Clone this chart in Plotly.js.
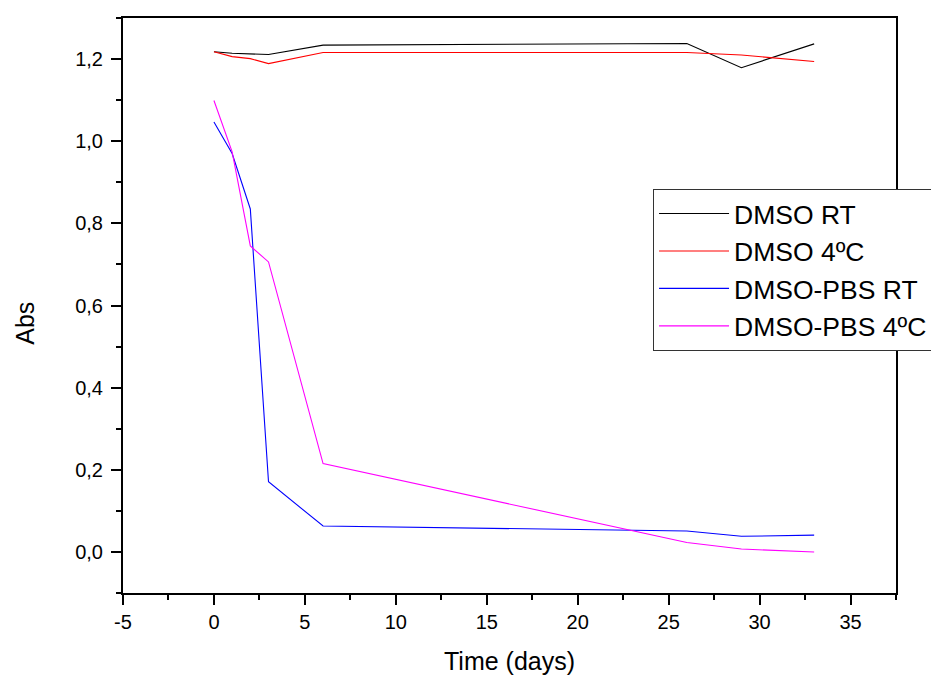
<!DOCTYPE html>
<html>
<head>
<meta charset="utf-8">
<script src="https://cdn.plot.ly/plotly-3.0.1.min.js"></script>
<style>html,body{margin:0;padding:0;background:#fff;}#chart{width:931px;height:677px;}</style>
</head>
<body>
<div id="chart"></div>
<script>
const seriesNames = ["DMSO RT", "DMSO 4ºC", "DMSO-PBS RT", "DMSO-PBS 4ºC"];
const dmsoRtDays = [0, 1, 3, 6, 26, 29, 33];
const dmsoRtAbs = [1.218, 1.214, 1.211, 1.234, 1.238, 1.179, 1.237];
const dmso4Days = [0, 1, 2, 3, 6, 26, 29, 33];
const dmso4Abs = [1.218, 1.206, 1.201, 1.189, 1.216, 1.216, 1.210, 1.194];
const pbsRtDays = [0, 1, 2, 3, 6, 26, 29, 33];
const pbsRtAbs = [1.047, 0.970, 0.835, 0.171, 0.063, 0.051, 0.038, 0.041];
const pbs4Days = [0, 1, 2, 3, 6, 26, 29, 33];
const pbs4Abs = [1.099, 0.974, 0.745, 0.706, 0.215, 0.023, 0.007, 0.000];
const xTickVals = [-5, 0, 5, 10, 15, 20, 25, 30, 35];
const xTickLabels = ["-5", "0", "5", "10", "15", "20", "25", "30", "35"];
const colors = ["#000000", "#ff0000", "#0000ff", "#ff00ff"];

const xs = [dmsoRtDays, dmso4Days, pbsRtDays, pbs4Days];
const ys = [dmsoRtAbs, dmso4Abs, pbsRtAbs, pbs4Abs];
const traces = seriesNames.map((n, i) => ({
  x: xs[i], y: ys[i], name: n, type: 'scatter', mode: 'lines',
  line: {color: colors[i], width: 1.1}
}));

const FONT = 'Arial, "Liberation Sans", sans-serif';
const layout = {
  width: 931, height: 677,
  margin: {l: 123, r: 35, t: 18, b: 84, autoexpand: false},
  paper_bgcolor: '#fff', plot_bgcolor: '#fff',
  separators: ',.',
  font: {family: FONT, color: '#000', size: 20},
  showlegend: true,
  legend: {
    x: 0.6857, y: 0.703, xanchor: 'left', yanchor: 'top',
    bgcolor: '#fff', bordercolor: '#333', borderwidth: 1,
    font: {family: FONT, size: 26.5, color: '#000'},
    itemwidth: 70, tracegroupgap: 0
  },
  xaxis: {
    range: [-5, 37.5], tickmode: 'array', tickvals: xTickVals, ticktext: xTickLabels,
    showgrid: false, zeroline: false,
    showline: true, linecolor: '#000', linewidth: 2, mirror: true,
    ticks: 'outside', ticklen: 10, tickwidth: 2, tickcolor: '#000',
    minor: {dtick: 2.5, ticks: 'outside', ticklen: 5, tickwidth: 2, tickcolor: '#000', showgrid: false},
    tickfont: {family: FONT, size: 20},
    title: {text: 'Time (days)', font: {family: FONT, size: 25}, standoff: 20}
  },
  yaxis: {
    range: [-0.1, 1.3], tick0: 0, dtick: 0.2, tickformat: '.1f',
    showgrid: false, zeroline: false,
    showline: true, linecolor: '#000', linewidth: 2, mirror: true,
    ticks: 'outside', ticklen: 10, tickwidth: 2, tickcolor: '#000',
    minor: {dtick: 0.1, ticks: 'outside', ticklen: 5, tickwidth: 2, tickcolor: '#000', showgrid: false},
    tickfont: {family: FONT, size: 20},
    ticklabelstandoff: 4
  },
  annotations: [{
    text: 'Abs', textangle: -90, xref: 'paper', yref: 'paper',
    x: -0.1268, y: 0.47, xanchor: 'center', yanchor: 'middle',
    showarrow: false, font: {family: FONT, size: 25, color: '#000'}
  }]
};

Plotly.newPlot('chart', traces, layout, {displayModeBar: false, staticPlot: true});
</script>
</body>
</html>
